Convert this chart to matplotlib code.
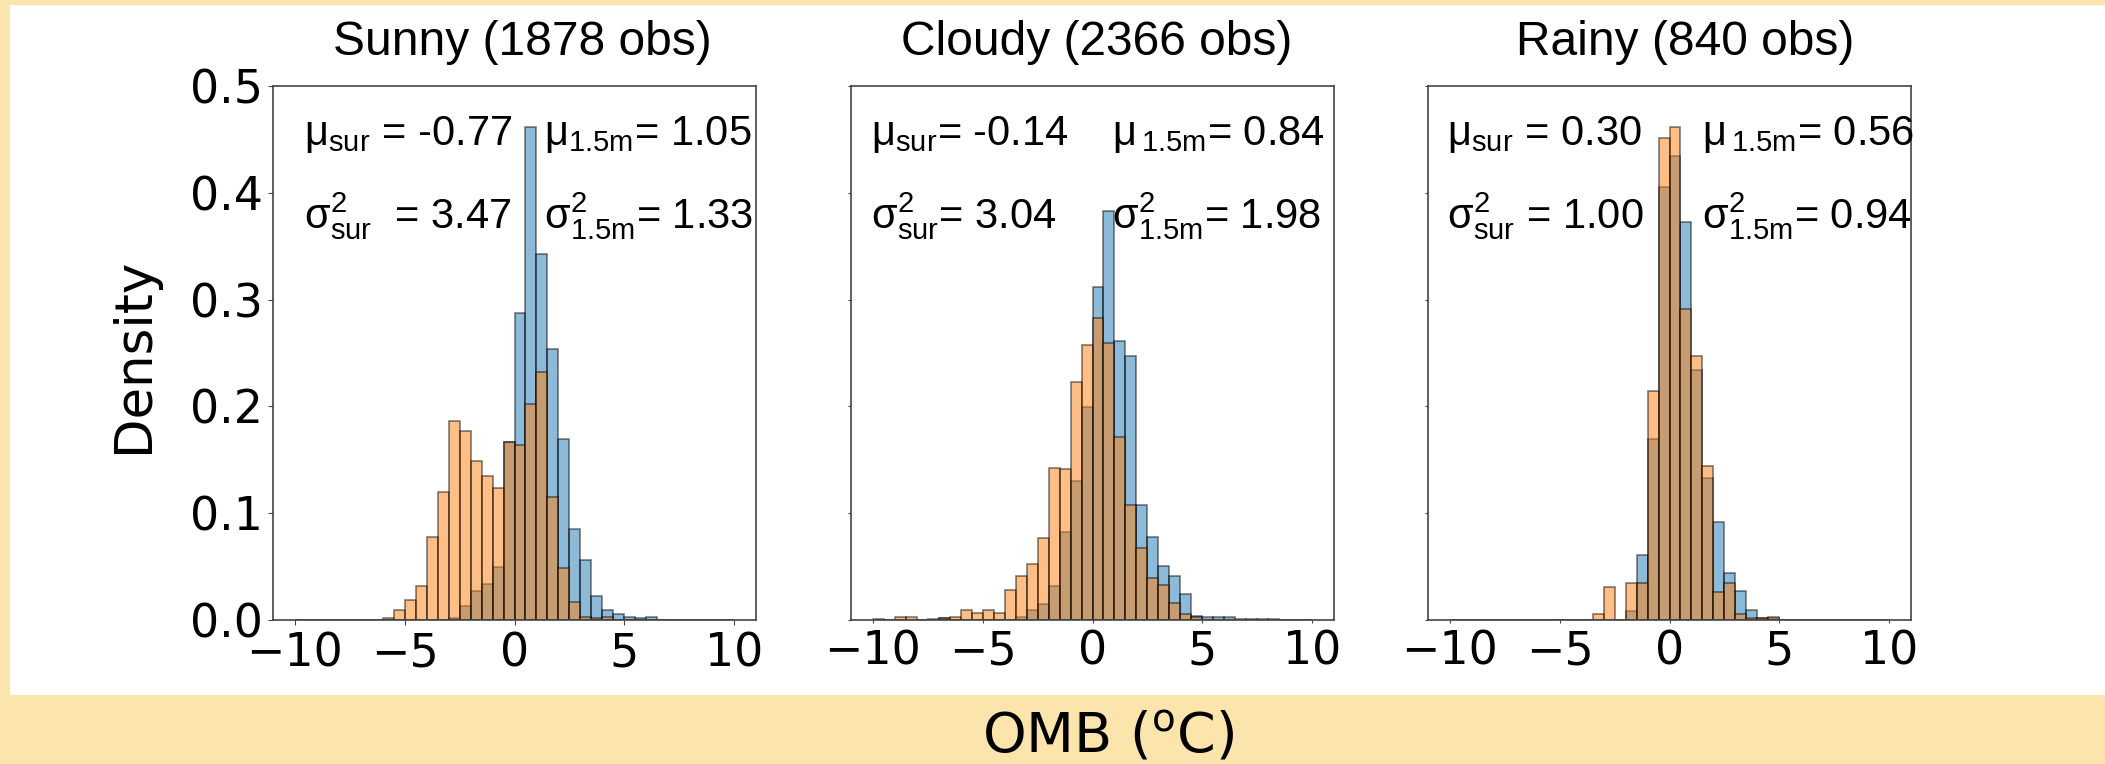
import numpy as np
import matplotlib.pyplot as plt
from matplotlib.patches import Rectangle

# histogram bins: 40 bins of 0.5 between -10 and 10
edges = np.arange(-10, 10.5, 0.5)
centers = edges[:-1] + 0.25

titles = ['Sunny (1878 obs)', 'Cloudy (2366 obs)', 'Rainy (840 obs)']

# density per bin, 1.5m temperature (blue)
dens_15m_sunny = [0, 0, 0, 0, 0, 0, 0, 0, 0, 0,
                  0, 0, 0, 0, 0.002, 0.013, 0.027, 0.034, 0.050, 0.167,
                  0.287, 0.462, 0.343, 0.254, 0.169, 0.085, 0.056, 0.022, 0.009, 0.006,
                  0.003, 0.002, 0.003, 0, 0, 0, 0, 0, 0, 0]
dens_15m_cloudy = [0, 0, 0, 0, 0, 0, 0.002, 0, 0, 0,
                   0, 0, 0, 0.003, 0.009, 0.015, 0.032, 0.082, 0.130, 0.199,
                   0.312, 0.383, 0.261, 0.247, 0.108, 0.078, 0.051, 0.041, 0.024, 0.004,
                   0.003, 0.003, 0.003, 0, 0.001, 0, 0.001, 0, 0, 0]
dens_15m_rainy = [0, 0, 0, 0, 0, 0, 0, 0, 0, 0,
                  0, 0, 0, 0, 0, 0, 0.008, 0.061, 0.169, 0.405,
                  0.434, 0.373, 0.234, 0.133, 0.092, 0.044, 0.027, 0.009, 0.002, 0.002,
                  0, 0, 0, 0, 0, 0, 0, 0, 0, 0]

# density per bin, surface temperature (orange)
dens_sur_sunny = [0, 0, 0, 0, 0, 0, 0, 0, 0.002, 0.009,
                  0.019, 0.032, 0.078, 0.120, 0.186, 0.177, 0.149, 0.135, 0.124, 0.167,
                  0.164, 0.202, 0.232, 0.115, 0.049, 0.017, 0.003, 0.002, 0.003, 0,
                  0, 0, 0, 0, 0, 0, 0, 0, 0, 0]
dens_sur_cloudy = [0.001, 0, 0.003, 0.003, 0, 0.001, 0.002, 0.003, 0.009, 0.007,
                   0.009, 0.007, 0.028, 0.041, 0.052, 0.077, 0.142, 0.141, 0.223, 0.257,
                   0.283, 0.259, 0.171, 0.108, 0.067, 0.039, 0.033, 0.016, 0.006, 0.003,
                   0, 0, 0, 0.001, 0, 0.001, 0, 0, 0, 0]
dens_sur_rainy = [0, 0, 0, 0, 0, 0, 0, 0, 0, 0,
                  0, 0, 0, 0.006, 0.031, 0, 0.035, 0.035, 0.214, 0.451,
                  0.462, 0.291, 0.247, 0.144, 0.026, 0.035, 0.006, 0.002, 0.002, 0.003,
                  0, 0, 0, 0, 0, 0, 0, 0, 0, 0]

blue_sets = [dens_15m_sunny, dens_15m_cloudy, dens_15m_rainy]
orange_sets = [dens_sur_sunny, dens_sur_cloudy, dens_sur_rainy]

# stats text
mu_sur = ['-0.77', '-0.14', '0.30']
var_sur = ['3.47', '3.04', '1.00']
mu_15m = ['1.05', '0.84', '0.56']
var_15m = ['1.33', '1.98', '0.94']
left_x = [-9.6, -10.1, -10.15]
right_x = [1.35, 0.9, 1.5]
title_x = [0.517, 0.508, 0.533]

yellow = '#FCE5AD'
fig = plt.figure(figsize=(21.05, 7.64), dpi=100)
fig.patch.set_facecolor(yellow)
fig.patches.append(Rectangle((10/2105, 69/764), 1, 690/764, transform=fig.transFigure,
                             facecolor='white', edgecolor='none', zorder=-10))

lefts = [273/2105, 851/2105, 1428/2105]
axes = []
for i in range(3):
    ax = fig.add_axes([lefts[i], 0.1885, 483/2105, 0.699])
    ax.hist(centers, bins=edges, weights=blue_sets[i], color='tab:blue',
            alpha=0.5, edgecolor='k', linewidth=1.2)
    ax.hist(centers, bins=edges, weights=orange_sets[i], color='tab:orange',
            alpha=0.5, edgecolor='k', linewidth=1.2)
    ax.set_xlim(-11, 11)
    ax.set_ylim(0, 0.5)
    ax.set_xticks([-10, -5, 0, 5, 10])
    ax.set_yticks([0, 0.1, 0.2, 0.3, 0.4, 0.5])
    ax.tick_params(labelsize=33, color='#444444')
    ax.tick_params(axis='x', pad=5)
    if i > 0:
        ax.tick_params(labelleft=False, length=2)
    for s in ax.spines.values():
        s.set_color('#444444')
        s.set_linewidth(1.2)
    ax.set_title(titles[i], fontsize=34.5, family='Liberation Sans', pad=22, x=title_x[i])

    tk = dict(fontsize=30, family='Liberation Sans', va='baseline')
    sp = ' ' if i == 0 else ''
    eq = '= ' if i == 1 else ' = '
    gap = '' if i == 0 else '\\,'
    ax.text(left_x[i], 0.445, 'μ$\\mathregular{_{sur}}$' + eq + mu_sur[i], **tk)
    ax.text(left_x[i], 0.367, 'σ$\\mathregular{^2_{sur}}$' + sp + eq + var_sur[i], **tk)
    ax.text(right_x[i], 0.445, 'μ$\\mathregular{_{' + gap + '1.5m}}$= ' + mu_15m[i], **tk)
    ax.text(right_x[i], 0.367, 'σ$\\mathregular{^2_{1.5m}}$= ' + var_15m[i], **tk)
    axes.append(ax)

fig.text(134/2105, 0.535, 'Density', rotation=90, fontsize=37, ha='center', va='center')
fig.text(1108/2105, 0.035, 'OMB ($^\\mathregular{o}$C)', fontsize=40, ha='center', va='center')

fig.savefig('out.png', dpi=100, facecolor=fig.get_facecolor())
